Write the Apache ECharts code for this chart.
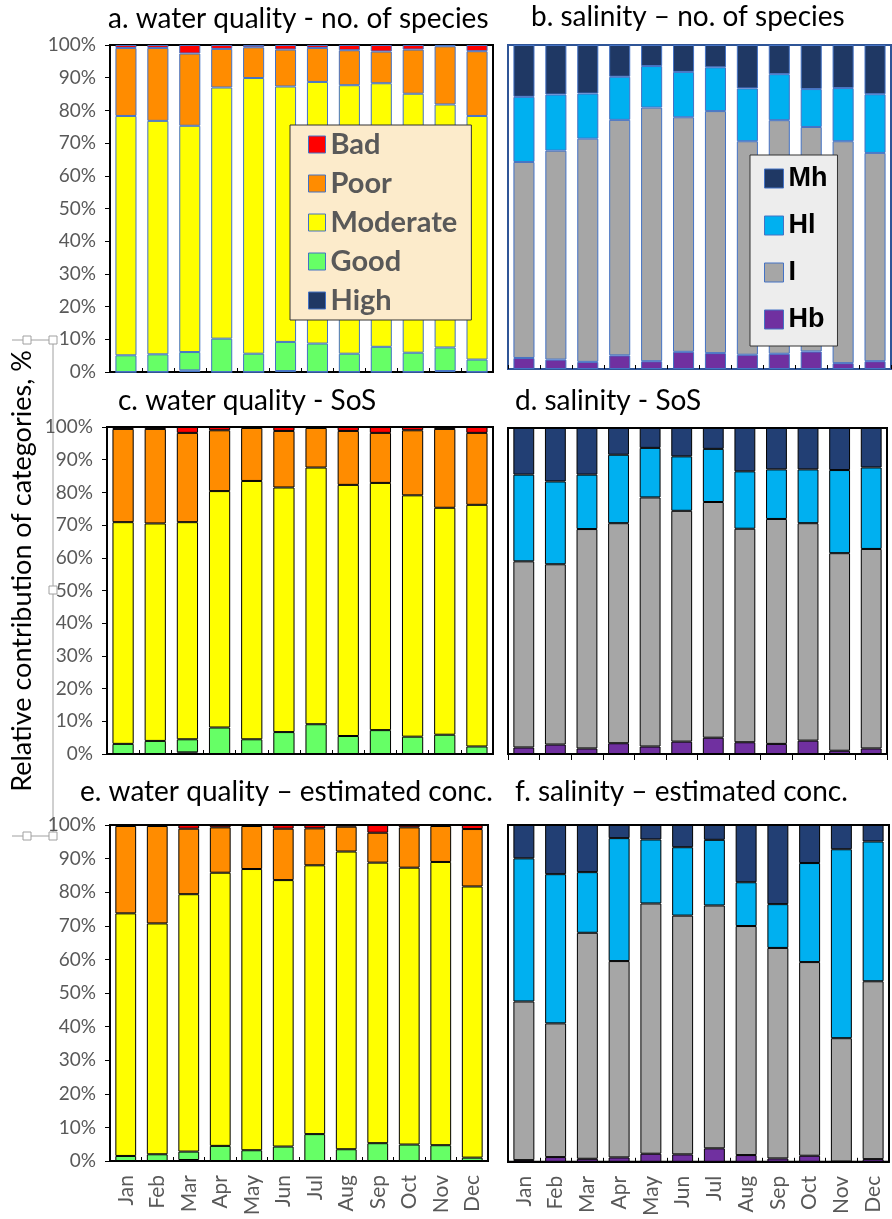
<!DOCTYPE html>
<html>
<head>
<meta charset="utf-8">
<script src="https://cdn.jsdelivr.net/npm/echarts@6/dist/echarts.min.js"></script>
<style>
  html, body { margin: 0; padding: 0; background: #fff; }
  #chart { width: 892px; height: 1219px; }
</style>
</head>
<body>
<div id="chart"></div>
<script>
const months = ['Jan', 'Feb', 'Mar', 'Apr', 'May', 'Jun', 'Jul', 'Aug', 'Sep', 'Oct', 'Nov', 'Dec'];

// water quality categories (bottom to top)
const wqNames = ['High', 'Good', 'Moderate', 'Poor', 'Bad'];
// salinity categories (bottom to top)
const salNames = ['Hb', 'I', 'Hl', 'Mh'];

// a. water quality - no. of species
const aHigh     = [0, 0, 0.5, 0, 0, 0.3, 0, 0, 0, 0, 0.3, 0];
const aGood     = [5.1, 5.4, 5.6, 10.2, 5.6, 8.9, 8.7, 5.6, 7.7, 5.9, 7.2, 3.8];
const aModerate = [73.2, 71.4, 69.2, 76.8, 84.3, 78.1, 80.0, 82.1, 80.6, 79.2, 74.3, 74.5];
const aPoor     = [20.8, 22.3, 22.1, 11.8, 9.4, 11.3, 10.4, 10.7, 9.7, 13.5, 17.8, 19.8];
const aBad      = [0.9, 0.9, 2.6, 1.2, 0.7, 1.4, 0.9, 1.6, 2.0, 1.4, 0.4, 1.9];

// b. salinity - no. of species
const bHb = [3.4, 2.9, 2.2, 4.2, 2.4, 5.3, 4.9, 4.4, 4.7, 5.4, 1.8, 2.4];
const bI  = [60.5, 64.5, 68.9, 72.7, 78.3, 72.4, 74.7, 65.9, 72.1, 69.3, 68.5, 64.3];
const bHl = [20.1, 17.3, 13.9, 13.3, 12.8, 14.0, 13.5, 16.3, 14.2, 11.7, 16.4, 18.1];
const bMh = [16.0, 15.3, 15.0, 9.8, 6.5, 8.3, 6.9, 13.4, 9.0, 13.6, 13.3, 15.2];

// c. water quality - SoS
const cHigh     = [0, 0, 0.5, 0, 0, 0, 0, 0, 0, 0, 0, 0];
const cGood     = [3.1, 4.0, 4.0, 8.1, 4.5, 6.7, 9.1, 5.5, 7.3, 5.3, 5.9, 2.3];
const cModerate = [67.8, 66.5, 66.4, 72.3, 79.0, 74.8, 78.5, 76.8, 75.6, 73.8, 69.4, 73.9];
const cPoor     = [28.5, 28.9, 27.3, 18.6, 16.2, 17.3, 12.1, 16.5, 15.3, 19.9, 24.1, 22.0];
const cBad      = [0.6, 0.6, 1.8, 1.0, 0.3, 1.2, 0.3, 1.2, 1.8, 1.0, 0.6, 1.8];

// d. salinity - SoS
const dHb = [2.0, 2.9, 1.7, 3.3, 2.3, 3.8, 5.0, 3.6, 3.1, 4.1, 1.0, 1.7];
const dI  = [57.1, 55.3, 67.3, 67.5, 76.4, 70.8, 72.3, 65.5, 69.0, 66.7, 60.6, 61.2];
const dHl = [26.6, 25.4, 16.7, 21.0, 15.2, 16.7, 16.3, 17.6, 15.2, 16.5, 25.5, 25.0];
const dMh = [14.3, 16.4, 14.3, 8.2, 6.1, 8.7, 6.4, 13.3, 12.7, 12.7, 12.9, 12.1];

// e. water quality - estimated conc.
const eHigh     = [0, 0, 0.3, 0, 0, 0, 0, 0, 0, 0, 0, 0];
const eGood     = [1.5, 2.0, 2.5, 4.5, 3.2, 4.3, 8.0, 3.5, 5.3, 4.9, 4.7, 1.0];
const eModerate = [72.2, 68.7, 76.6, 81.3, 83.7, 79.3, 80.0, 88.6, 83.5, 82.4, 84.3, 80.7];
const ePoor     = [26.0, 29.0, 19.5, 13.5, 12.8, 15.3, 11.0, 7.4, 8.9, 12.0, 10.7, 17.1];
const eBad      = [0.3, 0.3, 1.1, 0.7, 0.3, 1.1, 1.0, 0.5, 2.3, 0.7, 0.3, 1.2];

// f. salinity - estimated conc.
const fHb = [0.5, 1.4, 0.9, 1.3, 2.4, 2.2, 4.0, 2.0, 1.0, 1.8, 0.1, 0.8];
const fI  = [47.1, 39.7, 67.1, 58.3, 74.3, 70.9, 72.1, 68.0, 62.5, 57.5, 36.6, 52.8];
const fHl = [42.5, 44.3, 18.0, 36.5, 19.0, 20.3, 19.5, 13.0, 13.0, 29.4, 56.1, 41.5];
const fMh = [9.9, 14.6, 14.0, 3.9, 4.3, 6.6, 4.4, 17.0, 23.5, 11.3, 7.2, 4.9];

const titles = [
    'a. water quality - no. of species',
    'b. salinity \u2013 no. of species',
    'c. water quality - SoS',
    'd. salinity - SoS',
    'e. water quality \u2013 estimated conc.',
    'f. salinity \u2013 estimated conc.'
];

const wqColors = ['#1F3864', '#66FF66', '#FFFF00', '#FF8C00', '#FF0000'];
const salColors = ['#7030A0', '#A6A6A6', '#00B0F0', '#223F74'];

const FONT = 'Lato';
const GREY = '#595959';

var chart = echarts.init(document.getElementById('chart'));

// grids: a c e on the left, b d f on the right
var grids = [
    { left: 110, top: 45, width: 383, height: 327, border: '#000' },
    { left: 508, top: 45, width: 383, height: 324, border: '#2F5597' },
    { left: 107, top: 427, width: 386, height: 327, border: '#000' },
    { left: 508, top: 428, width: 379, height: 326, border: '#000' },
    { left: 110, top: 825, width: 378, height: 336, border: '#000' },
    { left: 508, top: 825, width: 381, height: 339, border: '#000' }
];

var xAxes = grids.map((g, i) => ({
    type: 'category',
    gridIndex: i,
    data: months,
    axisLine: { show: true, lineStyle: { color: g.border, width: 2 } },
    axisTick: { show: true, inside: i !== 3, length: i === 3 ? 6 : 4, lineStyle: { color: '#000' } },
    axisLabel: {
        show: i >= 4,
        rotate: 90,
        fontFamily: FONT,
        fontSize: 21,
        color: GREY,
        margin: 14
    }
}));

var yAxes = grids.map((g, i) => ({
    type: 'value',
    gridIndex: i,
    min: 0,
    max: 100,
    interval: 10,
    splitLine: { show: false },
    axisLine: { show: true, lineStyle: { color: g.border, width: 2 } },
    axisTick: { show: i % 2 === 0, length: 5, lineStyle: { color: '#000' } },
    axisLabel: {
        show: i % 2 === 0,
        formatter: '{value}%',
        fontFamily: FONT,
        fontSize: 19,
        color: GREY,
        margin: 14
    }
}));

function stack(idx, names, arrays, colors, border) {
    return names.map((n, k) => ({
        name: n,
        type: 'bar',
        stack: 'p' + idx,
        xAxisIndex: idx,
        yAxisIndex: idx,
        barWidth: '66%',
        data: arrays[k],
        itemStyle: { color: colors[k], borderColor: border, borderWidth: 1 },
        emphasis: { disabled: true }
    }));
}

var series = [].concat(
    stack(0, wqNames, [aHigh, aGood, aModerate, aPoor, aBad], wqColors, '#4472C4'),
    stack(1, salNames, [bHb, bI, bHl, bMh], ['#7030A0', '#A6A6A6', '#00B0F0', '#1F3864'], '#4472C4'),
    stack(2, wqNames, [cHigh, cGood, cModerate, cPoor, cBad], wqColors, '#000'),
    stack(3, salNames, [dHb, dI, dHl, dMh], salColors, '#000'),
    stack(4, wqNames, [eHigh, eGood, eModerate, ePoor, eBad], wqColors, '#000'),
    stack(5, salNames, [fHb, fI, fHl, fMh], salColors, '#000')
);

// panel titles (baseline positions)
var titlePos = [[108, 33], [531, 31], [118, 415], [515, 415], [80, 806], [515, 806]];
var graphics = titles.map((t, i) => ({
    type: 'text',
    x: titlePos[i][0],
    y: titlePos[i][1],
    style: {
        text: t,
        font: '28px ' + FONT,
        fill: '#000',
        verticalAlign: 'bottom'
    }
}));

// shared y axis name
graphics.push({
    type: 'text',
    x: 22,
    y: 571,
    rotation: Math.PI / 2,
    style: {
        text: 'Relative contribution of categories, %',
        font: '27px ' + FONT,
        fill: '#000',
        align: 'center',
        verticalAlign: 'middle'
    }
});

// selection handles around the axis title
var hc = '#A0A0A0';
graphics.push(
    { type: 'line', shape: { x1: 53, y1: 340, x2: 53, y2: 836 }, style: { stroke: hc, lineWidth: 1 } },
    { type: 'line', shape: { x1: 12, y1: 340, x2: 53, y2: 340 }, style: { stroke: hc, lineWidth: 1 } },
    { type: 'line', shape: { x1: 12, y1: 836, x2: 53, y2: 836 }, style: { stroke: hc, lineWidth: 1 } }
);
[[27, 340], [53, 340], [53, 590], [27, 836], [53, 836]].forEach(p => {
    graphics.push({
        type: 'rect',
        shape: { x: p[0] - 4, y: p[1] - 4, width: 8, height: 8 },
        style: { fill: '#fff', stroke: hc, lineWidth: 1 }
    });
});

var option = {
    animation: false,
    grid: grids.map(g => ({
        left: g.left, top: g.top, width: g.width, height: g.height,
        show: true, borderColor: g.border, borderWidth: 2, backgroundColor: 'transparent'
    })),
    xAxis: xAxes,
    yAxis: yAxes,
    legend: [
        {
            data: ['Bad', 'Poor', 'Moderate', 'Good', 'High'],
            orient: 'vertical',
            left: 290,
            top: 125,
            padding: [5, 14, 5, 18],
            itemGap: 10,
            itemWidth: 17,
            itemHeight: 17,
            backgroundColor: '#FCEBCB',
            borderColor: '#333',
            borderWidth: 1,
            icon: 'rect',
            itemStyle: { borderColor: '#4472C4', borderWidth: 1 },
            textStyle: { fontFamily: FONT, fontWeight: 'bold', fontSize: 29, color: GREY },
            selectedMode: false
        },
        {
            data: ['Mh', 'Hl', 'I', 'Hb'],
            orient: 'vertical',
            left: 750,
            top: 155,
            padding: [10, 10, 13, 14],
            itemGap: 20,
            itemWidth: 19,
            itemHeight: 19,
            backgroundColor: '#EDEDED',
            borderColor: '#333',
            borderWidth: 1,
            icon: 'rect',
            itemStyle: { borderColor: '#4472C4', borderWidth: 1 },
            textStyle: { fontFamily: 'Liberation Sans', fontWeight: 'bold', fontSize: 27, color: '#000' },
            selectedMode: false
        }
    ],
    graphic: graphics,
    series: series
};

chart.setOption(option);
</script>
</body>
</html>
